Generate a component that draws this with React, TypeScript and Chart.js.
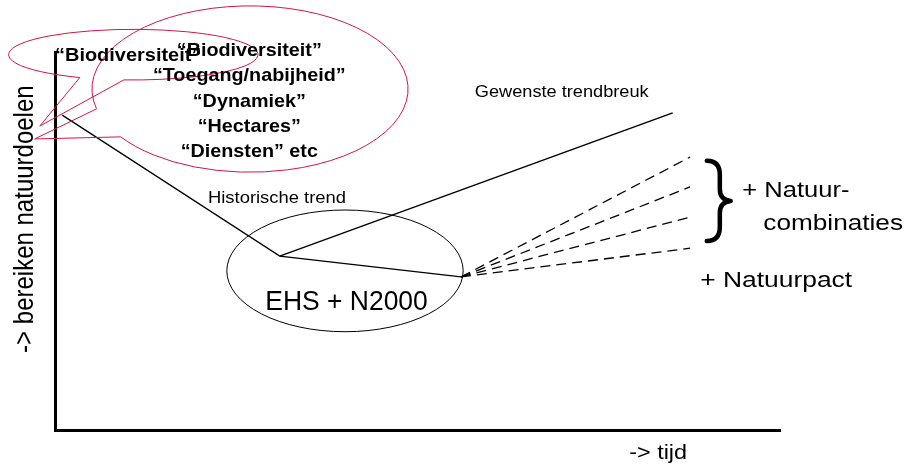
import React, { useEffect, useRef } from 'react';
import { Chart, registerables } from 'chart.js';

Chart.register(...registerables);

// ---- Data (time on x, reaching nature goals on y; arbitrary units 0..100) ----
const timeHistoric = [1.0, 31.0, 56.0];
const goalHistoric = [83.3, 46.0, 40.5];
const timeDesired = [31.0, 85.2];
const goalDesired = [46.0, 83.9];
const timeScenario = [56.0, 87.6];
const goalScenarioEnds = [72.2, 64.3, 56.3, 48.1];

// ---- Texts ----
const ellipseLabels = ['“Biodiversiteit”', '“Toegang/nabijheid”', '“Dynamiek”', '“Hectares”', '“Diensten” etc'];
const smallCalloutLabel = '“Biodiversiteit”';
const historicLabel = 'Historische trend';
const desiredLabel = 'Gewenste trendbreuk';
const ehsLabel = 'EHS + N2000';
const combiLabels = ['+ Natuur-', 'combinaties'];
const pactLabel = '+ Natuurpact';
const xTitle = '-> tijd';
const yTitle = '-> bereiken natuurdoelen';

const FONT = '"Liberation Sans", Arial, Helvetica, sans-serif';
const CRIMSON = '#d2144a';

type P = { x: number; y: number };

function drawText(ctx: CanvasRenderingContext2D, text: string, x: number, y: number, font: string, sx: number, align: CanvasTextAlign) {
  ctx.save();
  ctx.translate(x, y);
  ctx.scale(sx, 1);
  ctx.font = font;
  ctx.fillStyle = '#000';
  ctx.textAlign = align;
  ctx.textBaseline = 'alphabetic';
  ctx.fillText(text, 0, 0);
  ctx.restore();
}

function drawCallout(ctx: CanvasRenderingContext2D, cx: number, cy: number, rx: number, ry: number, b1: P, b2: P, tip: P | null) {
  ctx.beginPath();
  if (!tip) {
    ctx.ellipse(cx, cy, rx, ry, 0, 0, Math.PI * 2);
  } else {
    const a1 = Math.atan2((b1.y - cy) / ry, (b1.x - cx) / rx);
    let a2 = Math.atan2((b2.y - cy) / ry, (b2.x - cx) / rx);
    let d = (((a2 - a1) % (Math.PI * 2)) + Math.PI * 2) % (Math.PI * 2);
    let s = a1;
    if (d > Math.PI) {
      s = a2;
      d = Math.PI * 2 - d;
    }
    const e = s + d;
    ctx.ellipse(cx, cy, rx, ry, 0, e, s + Math.PI * 2);
    ctx.lineTo(tip.x, tip.y);
    ctx.closePath();
  }
  ctx.stroke();
}

const annotationPlugin = {
  id: 'diagramAnnotations',
  afterDraw(chart: any) {
    const ctx: CanvasRenderingContext2D = chart.ctx;
    const xs = chart.scales.x;
    const ys = chart.scales.y;
    const X = (v: number) => xs.getPixelForValue(v);
    const Y = (v: number) => ys.getPixelForValue(v);
    const RX = (v: number) => Math.abs(X(v) - X(0));
    const RY = (v: number) => Math.abs(Y(v) - Y(0));
    const pt = (x: number, y: number): P => ({ x: X(x), y: Y(y) });

    ctx.save();
    // EHS + N2000 ellipse
    ctx.strokeStyle = '#000';
    ctx.lineWidth = 1;
    drawCallout(ctx, X(40.0), Y(42.1), RX(16.3), RY(16.1), pt(0, 0), pt(0, 0), null);

    // crimson callouts
    ctx.strokeStyle = CRIMSON;
    ctx.lineWidth = 1;
    drawCallout(ctx, X(10.8), Y(99.3), RX(17.2), RY(6.7), pt(3.0, 92.9), pt(9.4, 92.1), pt(-2.1, 80.4));
    drawCallout(ctx, X(26.9), Y(90.2), RX(21.8), RY(22.0), pt(5.5, 84.9), pt(9.0, 77.5), pt(-2.8, 77.0));

    // brace
    ctx.strokeStyle = '#000';
    ctx.lineWidth = 4.5;
    ctx.lineCap = 'round';
    ctx.lineJoin = 'round';
    const bx0 = X(89.9), bxm = X(91.7), bx1 = X(93.2);
    const by0 = Y(71.2), bym = Y(60.6), by1 = Y(50.0);
    ctx.beginPath();
    ctx.moveTo(bx0, by0);
    ctx.quadraticCurveTo(bxm, by0, bxm, by0 + 14);
    ctx.lineTo(bxm, bym - 12);
    ctx.quadraticCurveTo(bxm, bym - 1, bx1, bym);
    ctx.quadraticCurveTo(bxm, bym + 1, bxm, bym + 12);
    ctx.lineTo(bxm, by1 - 14);
    ctx.quadraticCurveTo(bxm, by1, bx0, by1);
    ctx.stroke();
    ctx.restore();

    // texts
    const boldFont = `bold 19px ${FONT}`;
    ellipseLabels.forEach((t, i) => {
      drawText(ctx, t, X(26.8), Y(98.9) + i * 25.2, boldFont, 1.04, 'center');
    });
    drawText(ctx, smallCalloutLabel, X(0.0), Y(97.6), boldFont, 1.05, 'left');
    drawText(ctx, historicLabel, X(21.1), Y(60.1), `16px ${FONT}`, 1.15, 'left');
    drawText(ctx, desiredLabel, X(57.9), Y(88.1), `17px ${FONT}`, 1.07, 'left');
    drawText(ctx, ehsLabel, X(29.0), Y(31.7), `27px ${FONT}`, 0.98, 'left');
    drawText(ctx, combiLabels[0], X(94.8), Y(61.6), `22px ${FONT}`, 1.16, 'left');
    drawText(ctx, combiLabels[1], X(97.7), Y(52.9), `22px ${FONT}`, 1.19, 'left');
    drawText(ctx, pactLabel, X(89.0), Y(37.8), `22px ${FONT}`, 1.2, 'left');
    drawText(ctx, xTitle, X(79.2), Y(-7.7), `19.5px ${FONT}`, 1.2, 'left');

    // rotated y title
    ctx.save();
    ctx.translate(X(-3.03), Y(20.4));
    ctx.scale(1.15, 1);
    ctx.rotate(-Math.PI / 2);
    ctx.font = `24px ${FONT}`;
    ctx.fillStyle = '#000';
    ctx.textAlign = 'left';
    ctx.textBaseline = 'alphabetic';
    ctx.fillText(yTitle, 0, 0);
    ctx.restore();
  },
};

export default function App() {
  const ref = useRef<HTMLCanvasElement>(null);

  useEffect(() => {
    const canvas = ref.current;
    if (!canvas) return;
    const lineBase = { showLine: true, pointRadius: 0, borderColor: '#000', fill: false };
    const datasets: any[] = [
      {
        ...lineBase,
        label: historicLabel,
        data: timeHistoric.map((x, i) => ({ x, y: goalHistoric[i] })),
        borderWidth: 1.3,
      },
      {
        ...lineBase,
        label: desiredLabel,
        data: timeDesired.map((x, i) => ({ x, y: goalDesired[i] })),
        borderWidth: 1.5,
      },
      ...goalScenarioEnds.map((end, k) => ({
        ...lineBase,
        label: 'scenario ' + (k + 1),
        data: [
          { x: timeScenario[0], y: goalHistoric[goalHistoric.length - 1] },
          { x: timeScenario[1], y: end },
        ],
        borderWidth: 1.3,
        borderDash: [10, 6],
      })),
    ];

    const chart = new Chart(canvas, {
      type: 'scatter',
      data: { datasets },
      options: {
        animation: false,
        responsive: true,
        maintainAspectRatio: false,
        devicePixelRatio: 1,
        events: [],
        layout: { padding: { left: 55, top: 52, right: 126, bottom: 35 } },
        plugins: {
          legend: { display: false },
          tooltip: { enabled: false },
          title: { display: false },
        },
        scales: {
          x: {
            type: 'linear',
            min: 0,
            max: 100,
            grid: { display: false, drawTicks: false },
            ticks: { display: false },
            border: { display: true, color: '#000', width: 3 },
          },
          y: {
            type: 'linear',
            min: 0,
            max: 100,
            grid: { display: false, drawTicks: false },
            ticks: { display: false },
            border: { display: true, color: '#000', width: 3 },
          },
        },
      } as any,
      plugins: [annotationPlugin],
    });
    return () => chart.destroy();
  }, []);

  return (
    <div style={{ position: 'fixed', left: 0, top: 0, width: 906, height: 465, background: '#fff' }}>
      <canvas ref={ref} />
    </div>
  );
}
